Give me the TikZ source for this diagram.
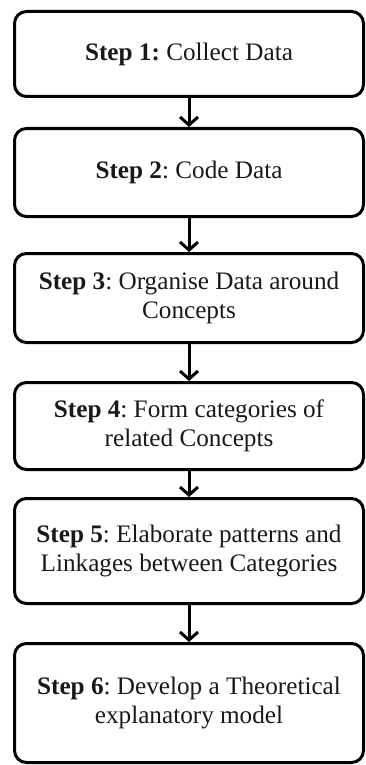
\documentclass[tikz,border=0pt]{standalone}
\usepackage{fontspec}
\setmainfont{Liberation Serif}
\usetikzlibrary{arrows.meta}
\begin{document}
\frenchspacing
\begin{tikzpicture}[x=1pt,y=1pt,
  stepbox/.style={draw=black, line width=3pt, rounded corners=12pt, minimum width=349pt,
    align=center, inner sep=0pt, text=black!90,
    font=\fontsize{25.2}{29}\selectfont},
  arr/.style={line width=3pt, -{Straight Barb[length=8pt,width=18pt,line width=3pt]}}]
\useasboundingbox (0,0) rectangle (366,-765);
\node[stepbox, minimum height=85pt] (b1) at (189,-54) {\textbf{Step 1:} Collect Data};
\node[stepbox, minimum height=88pt] (b2) at (189,-172.5) {\textbf{Step 2}: Code Data};
\node[stepbox, minimum height=89pt] (b3) at (189,-298) {\textbf{Step 3}: Organise Data around\\Concepts};
\node[stepbox, minimum height=87pt] (b4) at (189,-426) {\textbf{Step 4}: Form categories of\\related Concepts};
\node[stepbox, minimum height=105pt] (b5) at (189,-551) {\textbf{Step 5}: Elaborate patterns and\\Linkages between Categories};
\node[stepbox, minimum height=119pt] (b6) at (189,-703) {\textbf{Step 6}: Develop a Theoretical\\explanatory model};
\draw[arr] (b1.south) -- (b2.north);
\draw[arr] (b2.south) -- (b3.north);
\draw[arr] (b3.south) -- (b4.north);
\draw[arr] (b4.south) -- (b5.north);
\draw[arr] (b5.south) -- (b6.north);
\end{tikzpicture}
\end{document}
